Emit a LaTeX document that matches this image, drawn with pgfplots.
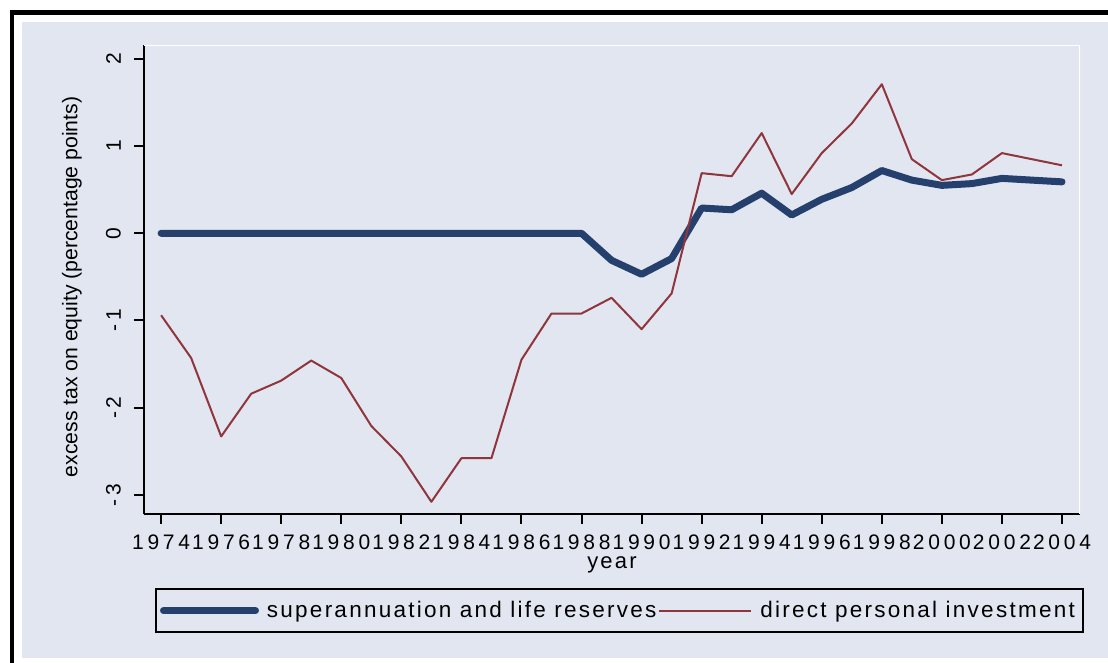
\documentclass[border=0pt]{standalone}
\usepackage{fontspec}
\setmainfont{Liberation Sans}
\newfontfamily\spaced[LetterSpace=18]{Liberation Sans}
\newfontfamily\lspaced[LetterSpace=10]{Liberation Sans}
\usepackage{pgfplots}
\pgfplotsset{compat=1.18}
\definecolor{stnavy}{RGB}{38,64,110}
\definecolor{stmaroon}{RGB}{144,53,59}
\definecolor{stbg}{RGB}{225,230,240}

\pgfplotstableread{
year super direct
1974 0 -0.94
1975 0 -1.43
1976 0 -2.33
1977 0 -1.84
1978 0 -1.69
1979 0 -1.46
1980 0 -1.66
1981 0 -2.21
1982 0 -2.56
1983 0 -3.08
1984 0 -2.58
1985 0 -2.58
1986 0 -1.45
1987 0 -0.92
1988 0 -0.92
1989 -0.31 -0.74
1990 -0.47 -1.10
1991 -0.29 -0.69
1992 0.29 0.69
1993 0.27 0.655
1994 0.46 1.15
1995 0.21 0.45
1996 0.39 0.92
1997 0.525 1.26
1998 0.72 1.71
1999 0.61 0.85
2000 0.55 0.61
2001 0.57 0.675
2002 0.63 0.92
2003 0.61 0.85
2004 0.59 0.78
}\data

\begin{document}
\begin{tikzpicture}
\begin{scope}[x=0.5pt,y=-0.5pt]
\fill[white] (0,0) rectangle (1108,663);
\fill[stbg] (22,22) rectangle (1108,658);
\fill[black] (10,10) rectangle (14,663);
\fill[black] (10,10) rectangle (1108,15);
\end{scope}
\begin{axis}[
  at={(72pt,-257pt)}, anchor=south west,
  scale only axis, width=468pt, height=234.5pt,
  xmin=1973.43, xmax=2004.6, ymin=-3.22, ymax=2.16,
  axis x line*=bottom, axis y line*=left,
  axis line style={line width=1pt, -},
  tick style={black, line width=1pt}, tick align=inside, major tick length=-5pt,
  xtick={1974,1976,...,2004},
  xticklabels={1974,1976,1978,1980,1982,1984,1986,1988,1990,1992,1994,1996,1998,2000,2002,2004},
  ytick={-3,-2,-1,0,1,2},
  yticklabels={-3,-2,-1,0,1,2},
  ticklabel style={font=\spaced\fontsize{10.5}{12}\selectfont},
  xticklabel style={anchor=north, yshift=-7pt},
  yticklabel style={xshift=-8pt, rotate=90, anchor=south},
  xlabel={year},
  ylabel={excess tax on equity (percentage points)},
  xlabel style={font=\lspaced\fontsize{11}{13}\selectfont, at={(axis description cs:0.5,-0.109)}, anchor=center},
  ylabel style={font=\fontsize{10.6}{12}\selectfont, at={(axis description cs:-0.077,0.484)}, anchor=center},
  legend columns=2,
  legend style={at={(axis description cs:0.01175,-0.1578)}, anchor=north west,
    draw=black, line width=1pt, fill=stbg, font=\lspaced\fontsize{11.25}{13}\selectfont,
    inner xsep=2pt, inner ysep=4pt,
    /tikz/every odd column/.append style={column sep=2pt},
    /tikz/every even column/.append style={column sep=-1pt}},
  legend image code/.code={\draw[#1] (0pt,0pt) -- (46pt,0pt);},
]
\addplot[stnavy, line width=3.5pt, line cap=round, line join=round] table[x=year, y=super] {\data};
\addlegendentry{superannuation and life reserves}
\addplot[stmaroon, line width=1pt, line join=round] table[x=year, y=direct] {\data};
\addlegendentry{direct personal investment}
\draw[white, line width=1pt] (rel axis cs:0,1) -- (rel axis cs:1,1) -- (rel axis cs:1,0);
\end{axis}
\begin{scope}[x=0.5pt,y=-0.5pt]
\useasboundingbox (0,0) rectangle (1108,663);
\end{scope}
\end{tikzpicture}
\end{document}
